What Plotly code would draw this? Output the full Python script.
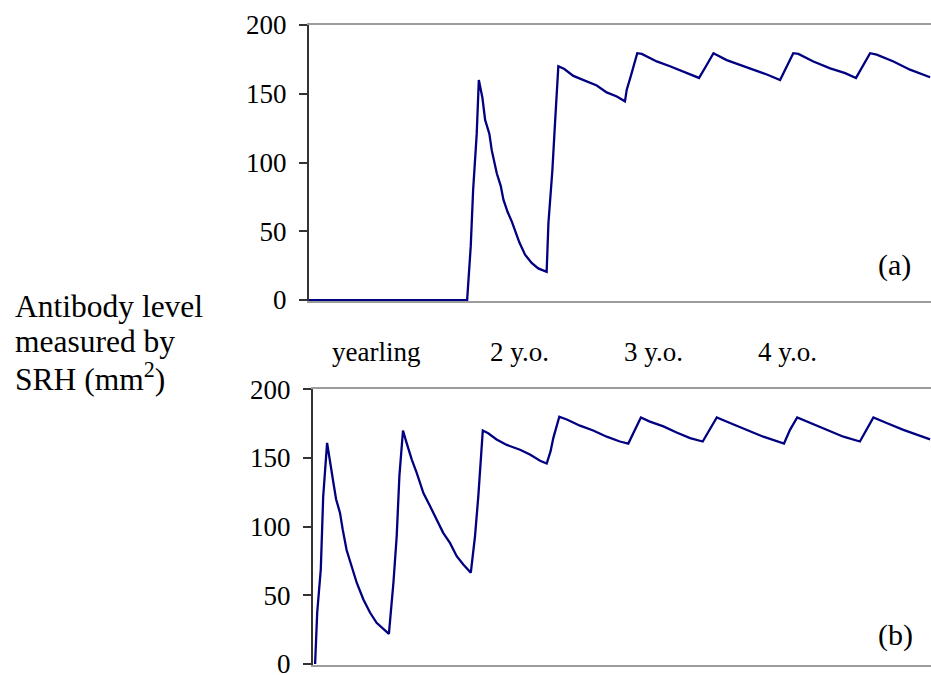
import plotly.graph_objects as go

# Antibody level (SRH, mm^2) against age in weeks, two vaccination schedules.
# (a) first vaccination as a yearling, (b) vaccination started as a foal.
weeks_a = [0, 52.7, 53.9, 54.7, 55.9, 56.6, 57.8, 58.7, 60.1, 60.9, 62.6, 63.9,
           64.8, 66.2, 67.6, 68.7, 70.1, 72.0, 74.2, 76.4, 79.2, 79.8, 81.1,
           82.0, 83.1, 85.1, 88.1, 90.3, 95.9, 99.2, 102.6, 105.3, 105.9, 107.2,
           109.4, 110.9, 115.9, 120.3, 124.8, 130.0, 132.3, 134.8, 139.2, 143.7,
           148.1, 152.6, 157.0, 159.4, 161.4, 163.1, 168.1, 173.7, 178.7, 182.3,
           184.8, 187.0, 189.2, 194.8, 200.3, 207.0]
srh_a = [0, 0, 39, 80, 121, 160, 147, 131, 121, 109, 92, 83,
         73, 64, 57, 50, 42, 33, 27, 23, 20.5, 56, 94,
         129, 170, 168, 163, 161, 156, 151, 148, 144.5, 153, 162.5,
         179.5, 179, 173.5, 170, 166, 161.5, 170, 179.5, 174.5, 171,
         167.5, 164, 160, 171, 179.5, 179, 173.5, 168.5, 165, 161.5,
         171, 179.5, 178.5, 173.5, 167.5, 162]

weeks_b = [0.7, 1.4, 2.6, 3.4, 4.7, 5.7, 6.8, 7.7, 9.0, 9.9, 11.2, 12.9, 14.6,
           16.8, 19.0, 21.2, 25.3, 26.8, 27.9, 28.8, 30.0, 31.2, 32.9, 34.6,
           36.8, 39.0, 41.2, 43.4, 45.7, 47.9, 50.1, 52.6, 54.0, 55.1, 56.6,
           58.4, 61.2, 64.6, 69.0, 72.3, 75.7, 77.9, 79.2, 80.1, 82.1, 84.6,
           89.0, 93.4, 97.9, 102.3, 105.1, 107.3, 109.3, 112.3, 116.8, 121.2,
           125.7, 129.9, 132.3, 134.6, 139.0, 144.6, 150.1, 157.0, 159.0, 161.4,
           165.7, 171.2, 176.8, 182.3, 184.6, 186.8, 191.2, 196.8, 205.7]
srh_b = [0, 37.5, 69, 122, 161, 146, 132, 120, 110, 98, 83, 71, 59,
         47, 37.5, 30, 22, 59, 93, 137, 170, 161, 149, 139,
         124.5, 115, 105, 95.5, 88, 78.5, 72.5, 66.5, 93, 122, 170,
         168, 163.5, 159.5, 156, 152.5, 148, 146, 155, 164.5, 180, 178,
         173.5, 170, 165.5, 162, 160.5, 170.5, 179.5, 176.5, 173, 168.5,
         164.5, 162, 170.5, 179.5, 175.5, 170.5, 165.5, 160.5, 170.5, 179.5,
         175.5, 170.5, 165.5, 162, 171.5, 179.5, 175.5, 170.5, 163.5]

age_labels = ["yearling", "2 y.o.", "3 y.o.", "4 y.o."]
age_label_weeks = [22.3, 70.3, 114.8, 159.5]

y_ticks = [0, 50, 100, 150, 200]

side_title = ["Antibody level", "measured by", "SRH (mm<sup>2</sup>)"]

SERIF = "Liberation Serif, Times New Roman, serif"
LINE = "#000080"

fig = go.Figure()
fig.add_trace(go.Scatter(x=weeks_a, y=srh_a, mode="lines", xaxis="x", yaxis="y",
                         line=dict(color=LINE, width=2.3), showlegend=False))
fig.add_trace(go.Scatter(x=weeks_b, y=srh_b, mode="lines", xaxis="x2", yaxis="y2",
                         line=dict(color=LINE, width=2.3), showlegend=False))

xcommon = dict(showgrid=False, zeroline=False, showticklabels=False, ticks="",
               showline=True, mirror=True, linecolor="#9c9c9c", linewidth=2,
               layer="below traces", automargin=False)
ycommon = dict(range=[-0.7, 200], tickvals=y_ticks, showgrid=False, zeroline=False,
               showline=True, linecolor="#333333", linewidth=2, mirror=False,
               ticks="outside", ticklen=8, tickwidth=2, tickcolor="#333333",
               ticklabelstandoff=7, automargin=False, ticklabeloverflow="allow",
               tickfont=dict(family=SERIF, size=27, color="black"))

fig.update_layout(
    width=931, height=675,
    margin=dict(l=0, r=0, t=0, b=0, pad=0, autoexpand=False),
    paper_bgcolor="white", plot_bgcolor="white",
    xaxis=dict(domain=[309 / 931, 1], range=[0, 207.3], **xcommon),
    yaxis=dict(domain=[374 / 675, 650 / 675], anchor="x", **ycommon),
    xaxis2=dict(domain=[313 / 931, 1], range=[0, 206], anchor="y2", **xcommon),
    yaxis2=dict(domain=[10 / 675, 285.7 / 675], anchor="x2", **ycommon),
)

annotations = []
for lab, wk in zip(age_labels, age_label_weeks):
    annotations.append(dict(x=wk, y=(675 - 352) / 675, xref="x", yref="paper",
                            text=lab, showarrow=False, xanchor="center",
                            yanchor="middle",
                            font=dict(family=SERIF, size=27, color="black")))
annotations.append(dict(x=195, y=25.4, xref="x", yref="y", text="(a)",
                        showarrow=False, xanchor="center", yanchor="middle",
                        font=dict(family=SERIF, size=30, color="black")))
annotations.append(dict(x=194, y=21.4, xref="x2", yref="y2", text="(b)",
                        showarrow=False, xanchor="center", yanchor="middle",
                        font=dict(family=SERIF, size=30, color="black")))
for line_text, y_px in zip(side_title, [306, 341, 377]):
    annotations.append(dict(x=13 / 931, y=(675 - y_px) / 675, xref="paper",
                            yref="paper", text=line_text, showarrow=False,
                            xanchor="left", yanchor="middle", align="left",
                            font=dict(family=SERIF, size=31.5, color="black")))
fig.update_layout(annotations=annotations)

fig.write_html("out.html")
